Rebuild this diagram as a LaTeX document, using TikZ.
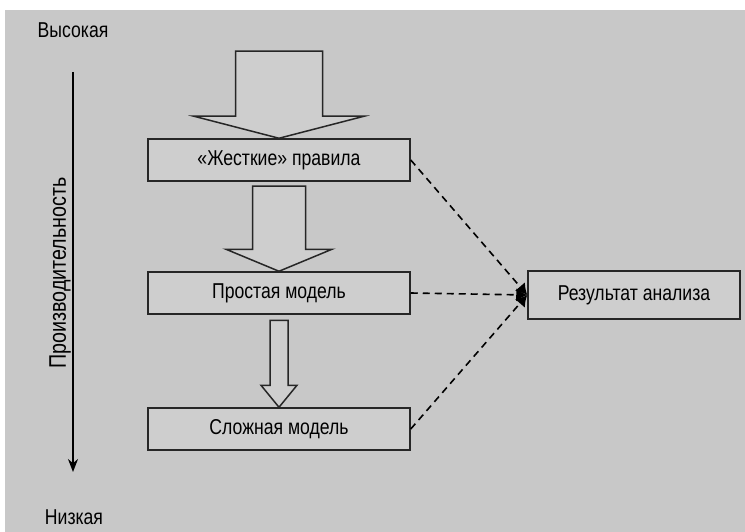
\documentclass[tikz,border=0pt]{standalone}
\usepackage{fontspec}
\setmainfont[FakeStretch=0.82]{Liberation Sans}
\usetikzlibrary{arrows.meta}

\definecolor{bggray}{RGB}{200,200,200}
\definecolor{boxgray}{RGB}{206,206,206}

% block arrow pointing down onto the top of a node
\newcommand{\blockdown}[5]{%
  \draw[block arrow] (#1.north) -- ++(-#2,-#3) -- ++(#2-#4,0) -- ++(0,-#5)
    -- ++(2*#4,0) -- ++(0,#5) -- ++(#2-#4,0) -- cycle;}

\begin{document}
\begin{tikzpicture}[x=1pt,y=-1pt,
    font=\fontsize{21.5}{25}\selectfont,
    box node/.style={rectangle,draw=black!85,line width=1.5pt,fill=boxgray,
        minimum width=262pt,minimum height=42pt,inner sep=0pt},
    res node/.style={box node,minimum width=212pt,minimum height=48pt},
    block arrow/.style={draw=black!85,line width=1.5pt,fill=boxgray,line join=miter},
    link/.style={dashed,line width=1.6pt,dash pattern=on 7pt off 5pt,
        -{Latex[length=11pt,width=13pt]}}]

  \useasboundingbox (0,0) rectangle (745,532);
  \fill[bggray] (5,10) rectangle (745,532);

  % performance axis
  \coordinate (top) at (73,72);
  \coordinate (bottom) at (73,472);
  \draw[line width=1.5pt,-{Stealth[length=13pt,width=10pt]}] (top) -- (bottom);
  \node (high) at (73,30) {Высокая};
  \node (low) at (74,517) {Низкая};
  \node[rotate=90,font=\fontsize{24}{28}\selectfont] (perf) at (60,273) {Производительность};

  % stages
  \node[box node] (rules) at (279,160) {«Жесткие» правила};
  \node[box node] (simple) at (279,293) {Простая модель};
  \node[box node] (complex) at (279,429) {Сложная модель};
  \node[res node] (result) at (634,295) {Результат анализа};

  \blockdown{rules}{85}{22}{43.5}{65}
  \blockdown{simple}{53}{22}{26.5}{63}
  \blockdown{complex}{18}{22}{9}{65}

  \draw[link] (rules.east) -- (result.west);
  \draw[link] (simple.east) -- (result.west);
  \draw[link] (complex.east) -- (result.west);
\end{tikzpicture}
\end{document}
